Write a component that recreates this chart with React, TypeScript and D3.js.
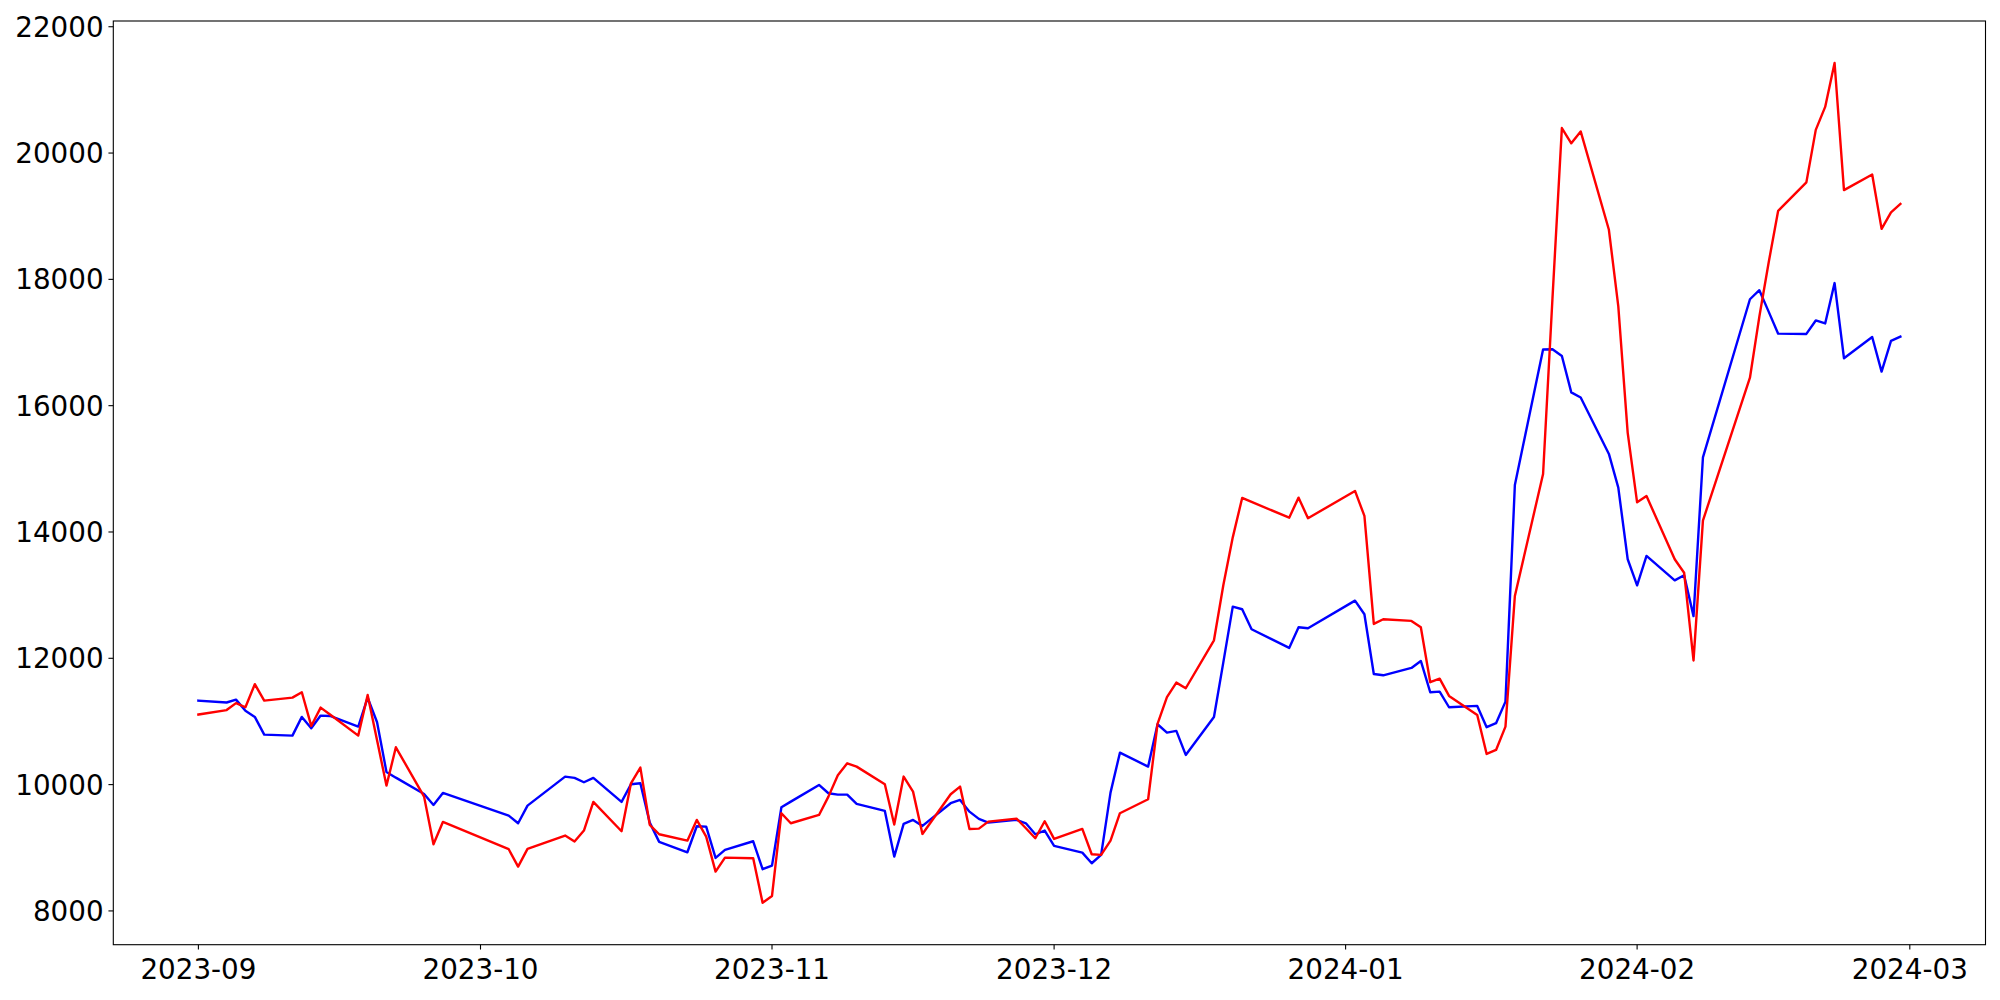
import React from "react";
import * as d3 from "d3";

const dates: string[] = [
  "2023-09-01","2023-09-04","2023-09-05","2023-09-06","2023-09-07","2023-09-08","2023-09-11","2023-09-12","2023-09-13","2023-09-14","2023-09-15","2023-09-18","2023-09-19","2023-09-20","2023-09-21","2023-09-22","2023-09-25","2023-09-26","2023-09-27",
  "2023-10-04","2023-10-05","2023-10-06","2023-10-10","2023-10-11","2023-10-12","2023-10-13","2023-10-16","2023-10-17","2023-10-18","2023-10-19","2023-10-20","2023-10-23","2023-10-24","2023-10-25","2023-10-26","2023-10-27","2023-10-30","2023-10-31",
  "2023-11-01","2023-11-02","2023-11-03","2023-11-06","2023-11-07","2023-11-08","2023-11-09","2023-11-10","2023-11-13","2023-11-14","2023-11-15","2023-11-16","2023-11-17","2023-11-20","2023-11-21","2023-11-22","2023-11-23","2023-11-24","2023-11-27","2023-11-28","2023-11-29","2023-11-30",
  "2023-12-01","2023-12-04","2023-12-05","2023-12-06","2023-12-07","2023-12-08","2023-12-11","2023-12-12","2023-12-13","2023-12-14","2023-12-15","2023-12-18","2023-12-19","2023-12-20","2023-12-21","2023-12-22","2023-12-26","2023-12-27","2023-12-28",
  "2024-01-02","2024-01-03","2024-01-04","2024-01-05","2024-01-08","2024-01-09","2024-01-10","2024-01-11","2024-01-12","2024-01-15","2024-01-16","2024-01-17","2024-01-18","2024-01-19","2024-01-22","2024-01-23","2024-01-24","2024-01-25","2024-01-26","2024-01-29","2024-01-30","2024-01-31",
  "2024-02-01","2024-02-02","2024-02-05","2024-02-06","2024-02-07","2024-02-08","2024-02-13","2024-02-14","2024-02-15","2024-02-16","2024-02-19","2024-02-20","2024-02-21","2024-02-22","2024-02-23","2024-02-26","2024-02-27","2024-02-28","2024-02-29",
];

const blueValues: number[] = [
  11330, 11300, 11346, 11170, 11072, 10792, 10776, 11072, 10893, 11093, 11087, 10918, 11377, 10987, 10201, 10110, 9852, 9678, 9868,
  9509, 9388, 9667, 10127, 10106, 10037, 10106, 9726, 10006, 10021, 9398, 9093, 8929, 9341, 9335, 8839, 8966, 9103, 8660,
  8718, 9641, 9731, 9995, 9863, 9842, 9842, 9694, 9583, 8860, 9378, 9441, 9346, 9705, 9757, 9572, 9457, 9398, 9441, 9388, 9214, 9272,
  9029, 8923, 8755, 8887, 9873, 10506, 10285, 10956, 10823, 10850, 10470, 11070, 11940, 12818, 12777, 12460, 12164, 12492, 12476,
  12913, 12697, 11752, 11731, 11847, 11958, 11462, 11472, 11225, 11246, 10909, 10972, 11314, 14745, 16890, 16894, 16787, 16210, 16130, 15236, 14702, 13568,
  13154, 13621, 13234, 13315, 12668, 15180, 17685, 17828, 17485, 17140, 17136, 17349, 17302, 17941, 16751, 17088, 16539, 17026, 17094,
];

const redValues: number[] = [
  11110, 11180, 11290, 11225, 11590, 11330, 11377, 11462, 10929, 11219, 11110, 10776, 11420, 10702, 9984, 10591, 9810, 9056, 9409,
  8977, 8702, 8982, 9193, 9098, 9272, 9726, 9262, 10021, 10269, 9362, 9214, 9113, 9441, 9177, 8622, 8844, 8834, 8130,
  8237, 9547, 9388, 9520, 9810, 10148, 10338, 10285, 10006, 9367, 10127, 9889, 9219, 9847, 9968, 9298, 9303, 9414, 9462, 9309, 9151, 9420,
  9140, 9298, 8898, 8887, 9113, 9547, 9768, 10961, 11384, 11615, 11526, 12285, 13160, 13915, 14539, 14476, 14227, 14544, 14217,
  14650, 14254, 12544, 12618, 12592, 12492, 11621, 11678, 11404, 11103, 10486, 10549, 10918, 12987, 14918, 17700, 20396, 20154, 20342, 18785, 17571, 15570,
  14469, 14569, 13568, 13355, 11966, 14181, 16443, 17410, 18275, 19085, 19536, 20367, 20731, 21426, 19413, 19660, 18800, 19061, 19193,
];

const yTicks: number[] = [8000, 10000, 12000, 14000, 16000, 18000, 20000, 22000];
const xTicks: string[] = ["2023-09-01", "2023-10-01", "2023-11-01", "2023-12-01", "2024-01-01", "2024-02-01", "2024-03-01"];

const W = 2000;
const H = 1000;
const L = 113.3;
const R = 1985.5;
const T = 21;
const B = 944.7;
const FS = 27.78;
const TICK = 4.86;
const PAD = 4.86;

export default function App() {
  const parse = d3.utcParse("%Y-%m-%d");
  const ds = dates.map((d) => parse(d) as Date);
  const [dMin, dMax] = d3.extent(ds) as [Date, Date];
  const dPad = (dMax.getTime() - dMin.getTime()) * 0.05;
  const x = d3
    .scaleUtc()
    .domain([new Date(dMin.getTime() - dPad), new Date(dMax.getTime() + dPad)])
    .range([L, R]);

  const all = blueValues.concat(redValues);
  const vMin = d3.min(all) as number;
  const vMax = d3.max(all) as number;
  const vPad = (vMax - vMin) * 0.05;
  const y = d3.scaleLinear().domain([vMin - vPad, vMax + vPad]).range([B, T]);

  const line = d3
    .line<number>()
    .x((_, i) => x(ds[i]))
    .y((v) => y(v));

  const fmt = d3.utcFormat("%Y-%m");

  return (
    <svg
      width={W}
      height={H}
      style={{ position: "absolute", left: 0, top: 0, background: "#fff" }}
      fontFamily="DejaVu Sans"
    >
      <rect x={0} y={0} width={W} height={H} fill="#fff" />
      <path d={line(blueValues) || ""} fill="none" stroke="#0000ff" strokeWidth={2.4} strokeLinejoin="round" strokeLinecap="square" />
      <path d={line(redValues) || ""} fill="none" stroke="#ff0000" strokeWidth={2.4} strokeLinejoin="round" strokeLinecap="square" />
      <rect x={L} y={T} width={R - L} height={B - T} fill="none" stroke="#000" strokeWidth={1.1} />
      {yTicks.map((t) => (
        <g key={"y" + t}>
          <line x1={L - TICK} x2={L} y1={y(t)} y2={y(t)} stroke="#000" strokeWidth={1.1} />
          <text x={L - TICK - PAD} y={y(t) + FS * 0.364} textAnchor="end" fontSize={FS} fill="#000">
            {t}
          </text>
        </g>
      ))}
      {xTicks.map((s) => {
        const d = parse(s) as Date;
        return (
          <g key={"x" + s}>
            <line x1={x(d)} x2={x(d)} y1={B} y2={B + TICK} stroke="#000" strokeWidth={1.1} />
            <text x={x(d)} y={B + TICK + PAD + FS * 0.9} textAnchor="middle" fontSize={FS} fill="#000">
              {fmt(d)}
            </text>
          </g>
        );
      })}
    </svg>
  );
}
